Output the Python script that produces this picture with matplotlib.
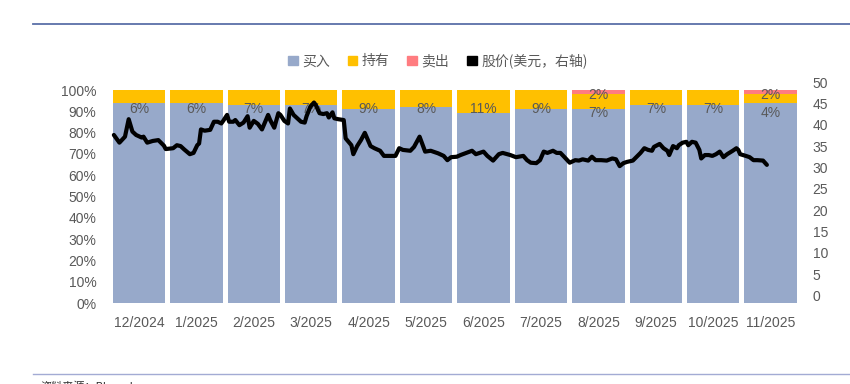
import matplotlib
matplotlib.use("Agg")
import matplotlib.pyplot as plt
from matplotlib.patches import Patch
import pandas as pd
import numpy as np

plt.rcParams['font.family'] = ['Liberation Sans', 'Noto Sans CJK SC', 'DejaVu Sans']

months = ["12/2024", "1/2025", "2/2025", "3/2025", "4/2025", "5/2025",
          "6/2025", "7/2025", "8/2025", "9/2025", "10/2025", "11/2025"]
buy = [94, 94, 93, 93, 91, 92, 89, 91, 91, 93, 93, 94]
hold = [6, 6, 7, 7, 9, 8, 11, 9, 7, 7, 7, 4]
sell = [0, 0, 0, 0, 0, 0, 0, 0, 2, 0, 0, 2]

price_dates = [
    "2024-12-03", "2024-12-06", "2024-12-09", "2024-12-11", "2024-12-13", "2024-12-15",
    "2024-12-18", "2024-12-19", "2024-12-21", "2024-12-24", "2024-12-27", "2024-12-30",
    "2024-12-31",
    "2025-01-04", "2025-01-06", "2025-01-08", "2025-01-10", "2025-01-13", "2025-01-15",
    "2025-01-17", "2025-01-18", "2025-01-19", "2025-01-21", "2025-01-24", "2025-01-26",
    "2025-01-28", "2025-01-30", "2025-01-31",
    "2025-02-02", "2025-02-03", "2025-02-05", "2025-02-06", "2025-02-08", "2025-02-10",
    "2025-02-12", "2025-02-13", "2025-02-15", "2025-02-17", "2025-02-19", "2025-02-22",
    "2025-02-23", "2025-02-25", "2025-02-27", "2025-02-28",
    "2025-03-02", "2025-03-04", "2025-03-05", "2025-03-07", "2025-03-09", "2025-03-11",
    "2025-03-13", "2025-03-14", "2025-03-16", "2025-03-18", "2025-03-19", "2025-03-21",
    "2025-03-23", "2025-03-25", "2025-03-26", "2025-03-28", "2025-03-29", "2025-03-31",
    "2025-04-03", "2025-04-04", "2025-04-07", "2025-04-08", "2025-04-10", "2025-04-12",
    "2025-04-14", "2025-04-17", "2025-04-19", "2025-04-22", "2025-04-24", "2025-04-27",
    "2025-04-30",
    "2025-05-02", "2025-05-04", "2025-05-08", "2025-05-10", "2025-05-13", "2025-05-16",
    "2025-05-19", "2025-05-23", "2025-05-26", "2025-05-28", "2025-05-30",
    "2025-06-02", "2025-06-04", "2025-06-07", "2025-06-10", "2025-06-12", "2025-06-16",
    "2025-06-18", "2025-06-21", "2025-06-24", "2025-06-26", "2025-06-30",
    "2025-07-03", "2025-07-07", "2025-07-09", "2025-07-11", "2025-07-14", "2025-07-16",
    "2025-07-18", "2025-07-20", "2025-07-23", "2025-07-25", "2025-07-27", "2025-07-29",
    "2025-08-01", "2025-08-04", "2025-08-06", "2025-08-08", "2025-08-11", "2025-08-13",
    "2025-08-15", "2025-08-18", "2025-08-21", "2025-08-24", "2025-08-26", "2025-08-28",
    "2025-08-30",
    "2025-09-01", "2025-09-04", "2025-09-06", "2025-09-08", "2025-09-10", "2025-09-12",
    "2025-09-14", "2025-09-15", "2025-09-18", "2025-09-20", "2025-09-22", "2025-09-23",
    "2025-09-25", "2025-09-27", "2025-09-28", "2025-09-30",
    "2025-10-02", "2025-10-03", "2025-10-05", "2025-10-07", "2025-10-09", "2025-10-10",
    "2025-10-12", "2025-10-14", "2025-10-16", "2025-10-18", "2025-10-20", "2025-10-22",
    "2025-10-24", "2025-10-27", "2025-10-29", "2025-10-30", "2025-10-31",
    "2025-11-03", "2025-11-05", "2025-11-07", "2025-11-09", "2025-11-12", "2025-11-14",
]
price = [
    37.6, 35.8, 37.2, 41.3, 38.4, 37.6, 37.0, 37.2, 35.8, 36.2, 36.4, 35.1, 34.3,
    34.5, 35.2, 35.0, 34.2, 33.1, 33.4, 35.2, 35.6, 38.9, 38.6, 38.8, 40.7, 40.7, 40.3, 40.9,
    42.3, 40.7, 40.7, 41.1, 39.9, 40.5, 42.0, 39.3, 40.9, 40.2, 38.9, 42.3, 41.1, 39.3, 42.7, 42.3,
    40.9, 40.3, 43.8, 42.3, 41.5, 40.7, 40.5, 42.0, 44.2, 45.2, 44.6, 42.7, 42.5, 42.7, 41.7,
    42.9, 41.5, 41.3,
    41.1, 36.8, 35.2, 33.1, 35.0, 36.4, 38.1, 35.0, 34.5, 33.9, 32.7, 32.7, 32.7,
    34.5, 34.1, 33.9, 34.8, 37.2, 33.7, 33.9, 33.3, 32.7, 31.7, 32.4,
    32.5, 32.9, 33.4, 33.9, 33.1, 33.7, 32.7, 31.6, 33.1, 33.4, 32.9,
    32.4, 32.7, 31.7, 31.1, 31.0, 31.7, 33.7, 33.4, 33.9, 33.4, 33.4, 32.5,
    31.1, 31.7, 31.6, 31.9, 31.6, 32.5, 31.7, 31.7, 31.6, 32.1, 31.9, 30.3, 31.0,
    31.3, 31.6, 32.5, 33.4, 34.5, 34.1, 33.9, 34.8, 35.5, 34.5, 33.9, 32.9, 35.0, 34.5, 35.2, 35.8,
    36.0, 35.2, 36.0, 35.8, 34.1, 32.1, 32.9, 32.9, 32.7, 33.1, 33.7, 32.4, 33.1, 33.9, 34.5,
    34.1, 33.1,
    32.7, 32.4, 31.7, 31.7, 31.6, 30.6,
]

C_BUY = "#97A9CA"
C_HOLD = "#FFC000"
C_SELL = "#FF7C80"
C_TEXT = "#595959"

fig = plt.figure(figsize=(8.5, 3.84), dpi=100)
ax = fig.add_axes([0.1296, 0.2109, 0.8109, 0.5807])

x = np.arange(len(months))
buy_f = np.array(buy) / 100
hold_f = np.array(hold) / 100
sell_f = np.array(sell) / 100
w = 0.913
ax.bar(x, buy_f, width=w, color=C_BUY, zorder=2)
ax.bar(x, hold_f, width=w, bottom=buy_f, color=C_HOLD, zorder=2)
ax.bar(x, sell_f, width=w, bottom=buy_f + hold_f, color=C_SELL, zorder=2)

for i in range(len(months)):
    top = buy_f[i] + hold_f[i] + sell_f[i]
    if sell[i] > 0:
        ax.annotate(f"{sell[i]}%", xy=(x[i], top), xytext=(0, -3.6), textcoords="offset points",
                    ha="center", va="center", color=C_TEXT, fontsize=10, zorder=5)
        off = -16.6
    else:
        off = -13.7
    ax.annotate(f"{hold[i]}%", xy=(x[i], top), xytext=(0, off), textcoords="offset points",
                ha="center", va="center", color=C_TEXT, fontsize=10, zorder=5)

ax.set_xlim(-0.5, len(months) - 0.5)
ax.set_ylim(0, 1.047)
ax.set_yticks(np.arange(0, 1.01, 0.1))
ax.set_yticklabels([f"{int(round(v*100))}%" for v in np.arange(0, 1.01, 0.1)])
ax.set_xticks(x)
ax.set_xticklabels(months)
ax.tick_params(axis="both", length=0, colors=C_TEXT, labelsize=10)
ax.tick_params(axis="y", pad=10)
ax.tick_params(axis="x", pad=9)
for s in ax.spines.values():
    s.set_visible(False)

ax2 = ax.twinx()
d = pd.to_datetime(pd.Series(price_dates))
px = ((d.dt.year - 2024) * 12 + d.dt.month - 12 + (d.dt.day - 1) / d.dt.days_in_month - 0.5).to_numpy()
ax2.plot(px, price, color="black", lw=3.0, zorder=6, solid_joinstyle="round", solid_capstyle="round")
ax2.set_ylim(-1.76, 50.47)
ax2.set_yticks(np.arange(0, 51, 5))
ax2.tick_params(axis="y", length=0, colors=C_TEXT, labelsize=10, pad=9.5)
for s in ax2.spines.values():
    s.set_visible(False)
ax2.set_xlim(-0.5, len(months) - 0.5)

handles = [Patch(color=C_BUY), Patch(color=C_HOLD), Patch(color=C_SELL), Patch(color="black")]
labels = ["买入", "持有", "卖出", "股价(美元，右轴)"]
leg = fig.legend(handles, labels, loc="center", bbox_to_anchor=(0.515, 0.841), ncol=4,
                 frameon=False, handlelength=0.7, handleheight=0.7, handletextpad=0.3,
                 columnspacing=1.3, prop={"family": ["Noto Sans CJK SC", "DejaVu Sans"], "size": 10})
for t in leg.get_texts():
    t.set_color(C_TEXT)

fig.add_artist(plt.Line2D([33/850, 1.0], [1 - 24/384, 1 - 24/384], color="#5A70A8", lw=1.3))
fig.add_artist(plt.Line2D([33/850, 1.0], [1 - 374/384, 1 - 374/384], color="#A3ABD4", lw=1.0))
fig.text(40/850, 1 - 386/384, "资料来源：Bloomberg", fontsize=8, color="#333333",
         family=["Noto Sans CJK SC", "DejaVu Sans"], va="center")

fig.savefig("out.png", dpi=100)
